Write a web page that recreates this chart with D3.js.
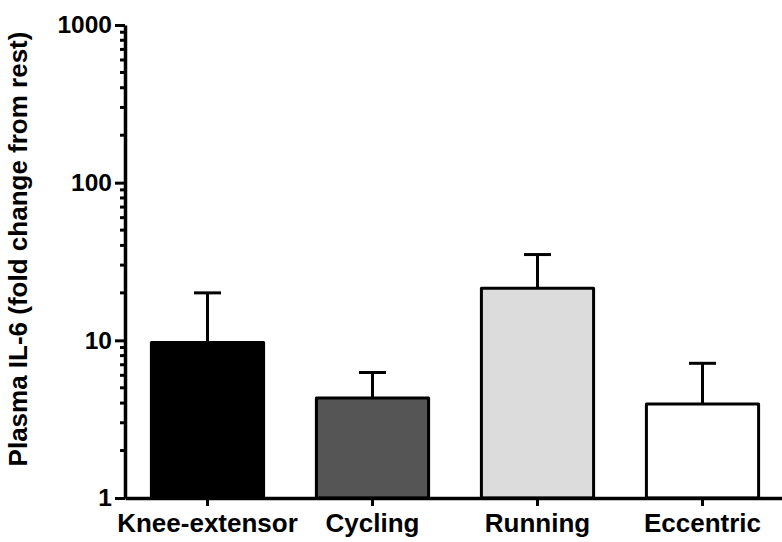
<!DOCTYPE html>
<html>
<head>
<meta charset="utf-8">
<script src="https://cdn.jsdelivr.net/npm/d3@7"></script>
<style>
  body { margin: 0; background: #fff; }
  svg { display: block; }
  text { font-family: "Liberation Sans", Arial, sans-serif; font-weight: bold; fill: #000; }
</style>
</head>
<body>
<svg width="782" height="542"></svg>
<script>
const categories = ["Knee-extensor", "Cycling", "Running", "Eccentric"];
const means = [9.7, 4.3, 21.4, 3.95];
const upperErr = [20, 6.25, 35, 7.15];
const fills = ["#000000", "#555555", "#dcdcdc", "#ffffff"];
const yTickValues = [1, 10, 100, 1000];

const svg = d3.select("svg");

const x = d3.scaleBand()
    .domain(categories)
    .range([125, 785])
    .paddingInner(0.32)
    .paddingOuter(0.16);

const y = d3.scaleLog()
    .domain([1, 1000])
    .range([498, 25]);

// minor ticks
const minor = [];
[1, 10, 100].forEach(d => { for (let k = 2; k <= 9; k++) minor.push(d * k); });

svg.append("g")
    .selectAll("line")
    .data(minor)
    .join("line")
    .attr("x1", 120).attr("x2", 125)
    .attr("y1", d => y(d)).attr("y2", d => y(d))
    .attr("stroke", "#000").attr("stroke-width", 3);

const yAxis = svg.append("g")
    .attr("transform", "translate(125,0)")
    .call(d3.axisLeft(y).tickValues(yTickValues).tickFormat(d3.format("d")).tickSize(10).tickSizeOuter(0).tickPadding(3));

yAxis.select(".domain").attr("stroke-width", 3.5);
yAxis.selectAll(".tick line").attr("stroke-width", 3);
yAxis.selectAll(".tick text").style("font-size", "24.5px").attr("font-family", null);

// bars
svg.append("g")
    .selectAll("rect")
    .data(categories)
    .join("rect")
    .attr("x", d => x(d))
    .attr("y", (d, i) => y(means[i]))
    .attr("width", x.bandwidth())
    .attr("height", (d, i) => y(1) - y(means[i]))
    .attr("fill", (d, i) => fills[i])
    .attr("stroke", "#000")
    .attr("stroke-width", 3)
    .attr("stroke-linejoin", "round");

// error bars (upper only)
const err = svg.append("g").attr("stroke", "#000").attr("stroke-width", 3);
categories.forEach((c, i) => {
    const cx = x(c) + x.bandwidth() / 2;
    err.append("line")
        .attr("x1", cx).attr("x2", cx)
        .attr("y1", y(means[i])).attr("y2", y(upperErr[i]));
    err.append("line")
        .attr("x1", cx - 13.5).attr("x2", cx + 13.5)
        .attr("y1", y(upperErr[i])).attr("y2", y(upperErr[i]));
});

const xAxis = svg.append("g")
    .attr("transform", "translate(0,498)")
    .call(d3.axisBottom(x).tickSize(8).tickSizeOuter(0).tickPadding(8));

xAxis.select(".domain").attr("stroke-width", 3.5);
xAxis.selectAll(".tick line").attr("stroke-width", 3);
xAxis.selectAll(".tick text").style("font-size", "26px").attr("font-family", null);

svg.append("text")
    .attr("transform", "translate(27,249) rotate(-90)")
    .attr("text-anchor", "middle")
    .style("font-size", "26px")
    .text("Plasma IL-6 (fold change from rest)");
</script>
</body>
</html>
